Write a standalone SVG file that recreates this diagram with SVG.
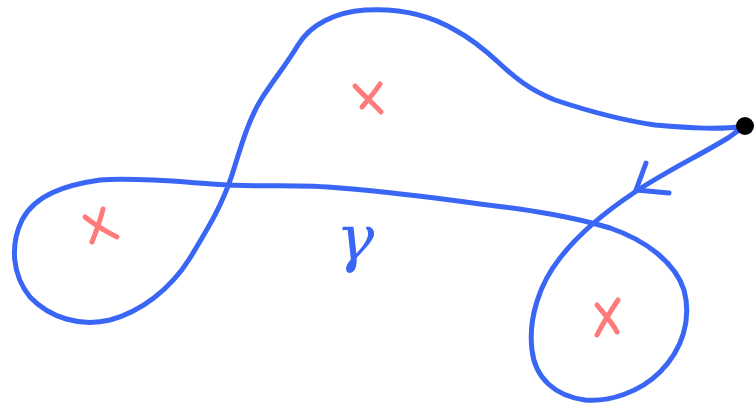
<svg xmlns="http://www.w3.org/2000/svg" width="754" height="407" viewBox="0 0 754 407">
<style>
.curve{fill:none;stroke:#3a66f6;stroke-width:5;stroke-linecap:round;stroke-linejoin:round}
.mark{fill:none;stroke:#ff7b7b;stroke-width:5;stroke-linecap:round}
.lbl{font-family:"DejaVu Serif",serif;font-style:italic;fill:#3a66f6;font-size:64px}
</style>
<rect width="754" height="407" fill="#fff"/>
<g id="connectors">
<path class="curve" d="M745,126 C720,130 690,128 655,125 C620,120 585,110 555,100 C530,90 515,78 498,62 C485,50 470,38 455,30 C430,15 400,8 365,10 C335,12 310,25 298,45 C288,62 275,78 262,98 C248,120 240,150 232,175 C222,205 210,225 190,258 C170,290 140,312 110,320 C80,327 50,318 30,297 C12,275 10,245 22,220 C35,195 65,185 100,180 C140,177 190,183 230,185 C270,187 300,184 340,188 C390,192 430,197 480,204 C530,210 570,216 610,228 C645,240 675,262 684,290 C692,320 682,350 660,372 C640,392 610,402 585,400 C555,396 535,378 532,350 C528,318 540,283 560,258 C580,232 605,212 635,192 C665,172 700,155 728,138 C735,133 740,129 745,126"/>
<path class="curve" d="M646,163 L636,190 L669,193"/>
</g>
<g id="basepoint">
<circle cx="745" cy="126" r="9" fill="#000"/>
</g>
<g id="puncture1">
<path class="mark" d="M355,86 C362,94 372,102 381,112 M380,84 C375,92 368,100 362,107"/>
</g>
<g id="puncture2">
<path class="mark" d="M103,209 C100,222 96,232 92,242 M85,217 C96,226 107,232 117,237"/>
</g>
<g id="puncture3">
<path class="mark" d="M618,300 C610,312 603,323 597,335 M597,305 C604,314 612,322 617,332"/>
</g>
<g id="label">
<text class="lbl" x="355" y="260" text-anchor="middle">γ</text>
</g>
</svg>
